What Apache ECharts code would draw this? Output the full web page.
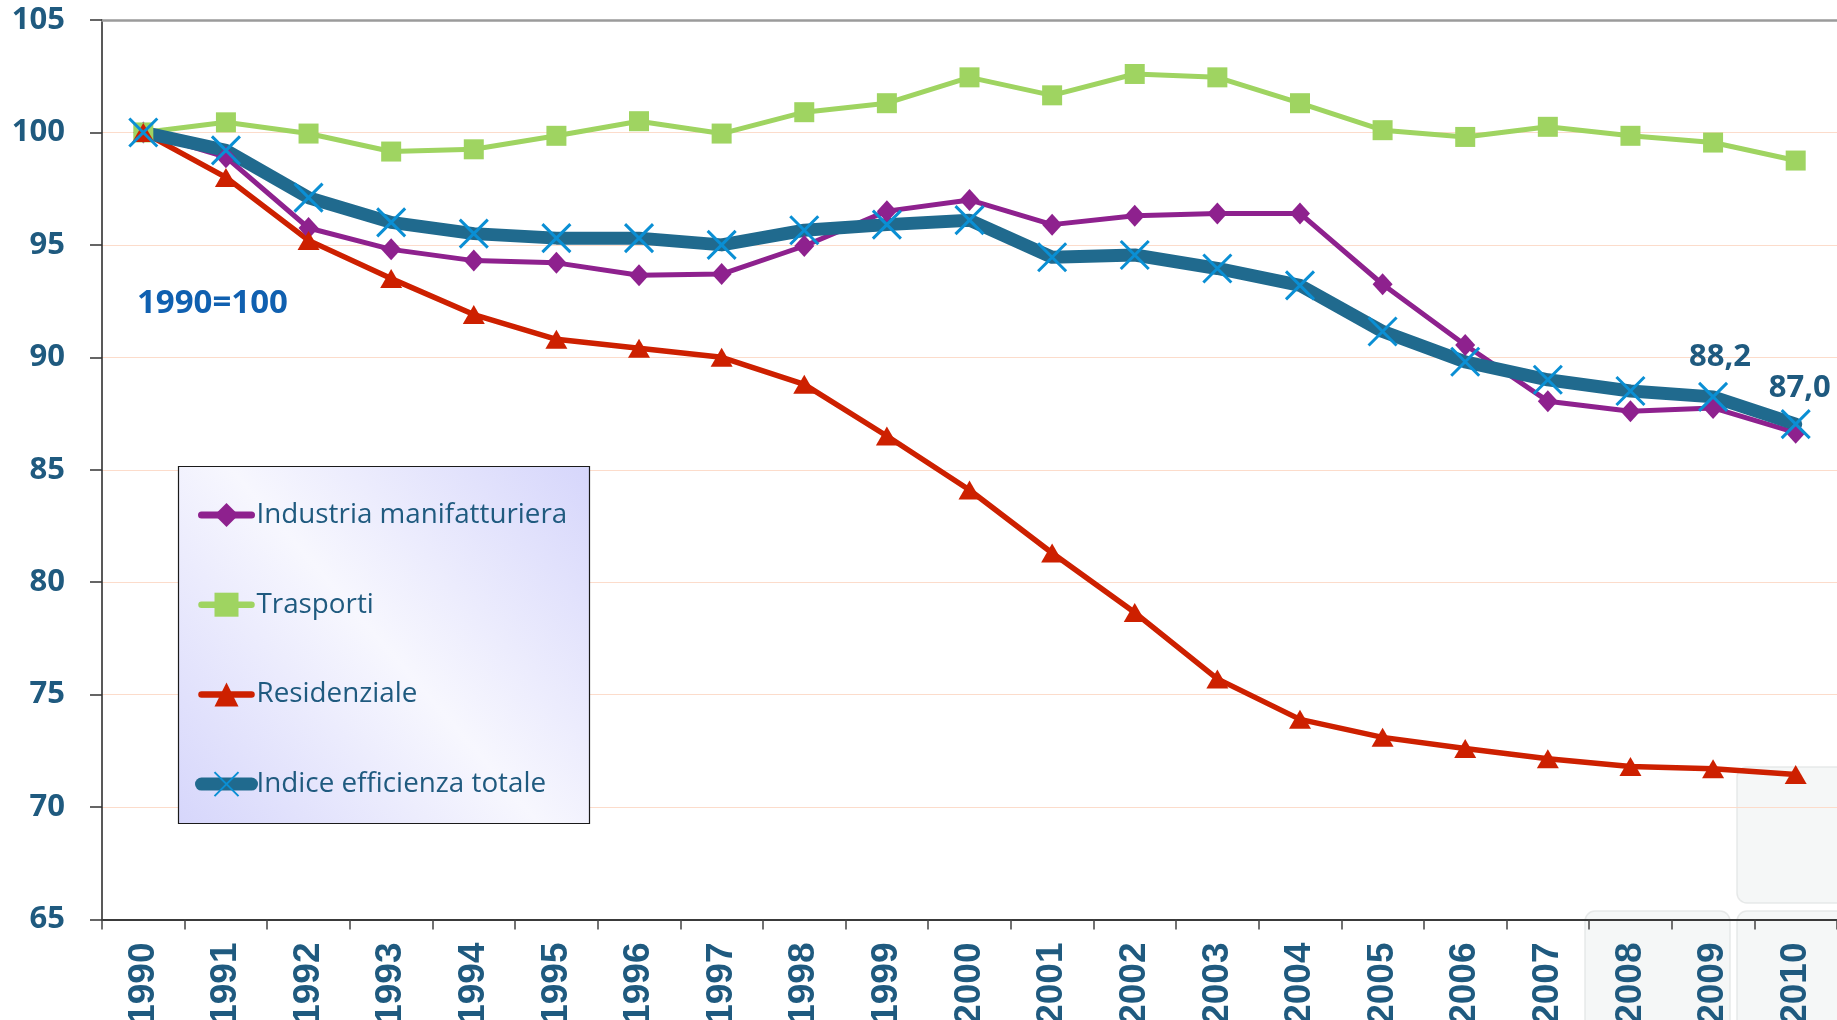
<!DOCTYPE html>
<html>
<head>
<meta charset="utf-8">
<script src="https://cdn.jsdelivr.net/npm/echarts@6/dist/echarts.min.js"></script>
<style>
html,body{margin:0;padding:0;background:#fff;}
#c{width:1837px;height:1020px;}
</style>
</head>
<body>
<div id="c"></div>
<script>
const years = ['1990','1991','1992','1993','1994','1995','1996','1997','1998','1999','2000','2001','2002','2003','2004','2005','2006','2007','2008','2009','2010'];
const industria = [100, 98.9, 95.75, 94.8, 94.3, 94.2, 93.65, 93.7, 94.95, 96.5, 97.0, 95.9, 96.3, 96.4, 96.4, 93.25, 90.55, 88.05, 87.6, 87.75, 86.65];
const trasporti = [100, 100.45, 99.95, 99.15, 99.25, 99.85, 100.5, 99.95, 100.9, 101.3, 102.45, 101.65, 102.6, 102.45, 101.3, 100.1, 99.8, 100.25, 99.85, 99.55, 98.75];
const residenziale = [100, 98.0, 95.2, 93.5, 91.9, 90.8, 90.4, 90.0, 88.8, 86.5, 84.1, 81.3, 78.65, 75.7, 73.9, 73.1, 72.6, 72.15, 71.8, 71.7, 71.45];
const totale = [100, 99.2, 97.1, 96.0, 95.5, 95.3, 95.3, 95.0, 95.65, 95.9, 96.1, 94.45, 94.55, 93.95, 93.2, 91.15, 89.8, 89.0, 88.5, 88.24, 87.03];
const seriesNames = ['Industria manifatturiera', 'Trasporti', 'Residenziale', 'Indice efficienza totale'];
const labelledYears = ['2009', '2010'];
const baseNote = '1990=100';

const TXT = '#1f5a7f';
const chart = echarts.init(document.getElementById('c'));

const totData = totale.map((v, i) => {
  const idx = labelledYears.indexOf(years[i]);
  if (idx < 0) return v;
  return {
    value: v,
    label: {
      show: true, position: 'top', distance: 8,
      offset: idx === 0 ? [7, -1] : [4, 3],
      fontFamily: 'Open Sans', fontWeight: 'bold', fontSize: 31, color: TXT,
      formatter: p => p.value.toFixed(1).replace('.', ',')
    }
  };
});

const xPath = 'path://M0,0L10,10M10,0L0,10';

chart.setOption({
  animation: false,
  backgroundColor: '#ffffff',
  grid: { left: 102, top: 20, right: 0, bottom: 100.5, containLabel: false, outerBoundsMode: 'none' },
  graphic: [
    { type: 'rect', z: 0, shape: { x: 1737, y: 767, width: 120, height: 136, r: 10 },
      style: { fill: 'rgba(244,246,246,0.9)', stroke: 'rgba(225,228,228,0.8)', lineWidth: 1.5 } },
    { type: 'rect', z: 0, shape: { x: 1585, y: 911, width: 145, height: 130, r: 10 },
      style: { fill: 'rgba(244,246,246,0.9)', stroke: 'rgba(225,228,228,0.8)', lineWidth: 1.5 } },
    { type: 'rect', z: 0, shape: { x: 1737, y: 911, width: 120, height: 130, r: 10 },
      style: { fill: 'rgba(244,246,246,0.9)', stroke: 'rgba(225,228,228,0.8)', lineWidth: 1.5 } },
    { type: 'rect', z: 3, shape: { x: 178.5, y: 466.5, width: 411, height: 357 },
      style: {
        fill: new echarts.graphic.LinearGradient(1, 0, 0, 1, [
          { offset: 0, color: '#d6d6fb' },
          { offset: 0.5, color: '#f7f7fe' },
          { offset: 1, color: '#d6d6fb' }
        ]),
        stroke: '#1a1a1a', lineWidth: 1.2
      } },
    { type: 'text', z: 5, left: 137, top: 287,
      style: { text: baseNote, fontFamily: 'Open Sans', fontWeight: 'bold', fontSize: 33, fill: '#1060b0' } }
  ],
  legend: {
    orient: 'vertical', left: 195, top: 500, z: 6, padding: 0,
    itemWidth: 50, itemHeight: 30, itemGap: 59.7,
    textStyle: { fontFamily: 'Open Sans', fontSize: 27.8, color: TXT, lineHeight: 30 },
    data: [
      { name: seriesNames[0], lineStyle: { width: 7, cap: 'round' } },
      { name: seriesNames[1], lineStyle: { width: 6.5, cap: 'round' } },
      { name: seriesNames[2], lineStyle: { width: 6.5, cap: 'round' } },
      { name: seriesNames[3], lineStyle: { width: 13, cap: 'round' } }
    ]
  },
  xAxis: [
    {
      type: 'category', data: years, boundaryGap: true,
      axisLine: { show: true, lineStyle: { color: '#3a3a3a', width: 2 } },
      axisTick: { show: true, length: 10, lineStyle: { color: '#444', width: 1.5 } },
      axisLabel: { interval: 0, rotate: 90, margin: 23, fontFamily: 'Liberation Sans', fontWeight: 'bold', fontSize: 37, color: TXT },
      splitLine: { show: false }
    },
    {
      type: 'category', data: years, position: 'top', boundaryGap: true,
      axisLine: { show: true, lineStyle: { color: '#9b9b9b', width: 2.5 } },
      axisTick: { show: false }, axisLabel: { show: false }
    }
  ],
  yAxis: {
    type: 'value', min: 65, max: 105, interval: 5,
    axisLine: { show: true, lineStyle: { color: '#222', width: 1.5 } },
    axisTick: { show: true, length: 12, lineStyle: { color: '#333', width: 1.5 } },
    axisLabel: { margin: 37, fontFamily: 'Open Sans', fontWeight: 'bold', fontSize: 31, color: TXT },
    splitLine: { show: true, lineStyle: { color: '#fcdccb', width: 1.2 } }
  },
  series: [
    {
      name: seriesNames[0], type: 'line', data: industria,
      symbol: 'diamond', symbolSize: [20, 22],
      lineStyle: { color: '#8e218e', width: 5 },
      itemStyle: { color: '#8e218e', borderWidth: 0 }
    },
    {
      name: seriesNames[1], type: 'line', data: trasporti,
      symbol: 'rect', symbolSize: 20,
      lineStyle: { color: '#9fd461', width: 5 },
      itemStyle: { color: '#9fd461', borderWidth: 0 }
    },
    {
      name: seriesNames[2], type: 'line', data: residenziale,
      symbol: 'triangle', symbolSize: [22, 19],
      lineStyle: { color: '#cd2000', width: 5.5 },
      itemStyle: { color: '#cd2000', borderWidth: 0 }
    },
    {
      name: seriesNames[3], type: 'line', data: totData,
      symbol: xPath, symbolSize: 28,
      lineStyle: { color: '#206a8e', width: 13, join: 'round', cap: 'round' },
      itemStyle: { color: 'rgba(0,0,0,0)', borderColor: '#0a8fd4', borderWidth: 3 }
    }
  ]
});
</script>
</body>
</html>
